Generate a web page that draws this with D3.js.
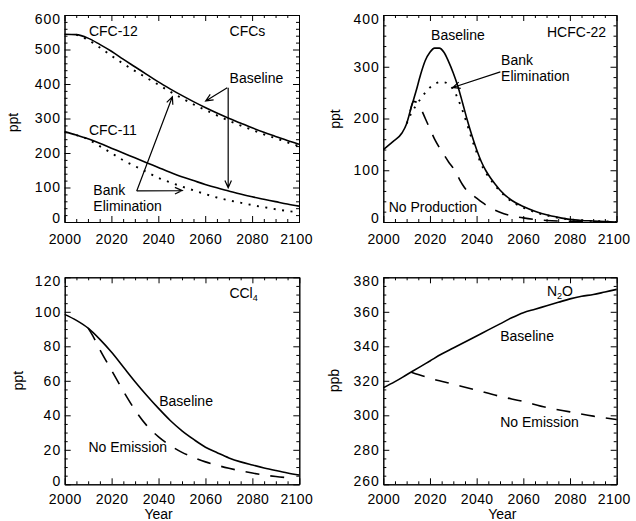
<!DOCTYPE html>
<html>
<head>
<meta charset="utf-8">
<script src="https://cdn.jsdelivr.net/npm/d3@7"></script>
<style>
body { margin: 0; background: #fff; }
text { font-family: "Liberation Sans", Arial, Helvetica, sans-serif; }
</style>
</head>
<body>
<div id="chart"></div>
<script>
"use strict"

// ---- data ----
let years = [2000,2005,2010,2015,2020,2025,2030,2035,2040,2045,2050,2055,2060,2065,2070,2075,2080,2085,2090,2095,2100];

let cfc12Baseline = [544,543,533,515,495,472,450,428,406,386,367,349,332,316,301,287,273,260,248,236,225];
let cfc12BankElim = [544,543,528,506,482,459,438,418,398,378,359,341,325,309,294,280,267,254,243,231,220];
let cfc11Baseline = [262,252,241,228,214,200,186,172,158,144,131,120,109,99,90,81,73,66,59,52,46];
let cfc11BankElim = [262,252,240,220,200,179,162,145,128,115,103,92,81,71,63,56,49,43,37,32,28];

let hcfcYears = [2000,2004,2008,2010,2012,2014,2016,2018,2020,2022,2024,2026,2028,2030,2032,2034,2036,2038,2040,2042,2044,2046,2048,2050,2055,2060,2065,2070,2075,2080,2085,2090,2095,2100];
let hcfcBaseline = [140,155,172,190,222,252,285,312,328,336,336,328,310,288,262,230,197,167,140,117,99,85,73,62,42,30,21,14,9,5,3,2,1,0];
let hcfcBankYears = [2010,2012,2014,2016,2018,2020,2022,2024,2026,2028,2030,2032,2034,2036,2038,2040,2042,2044,2046,2048,2050,2055,2060,2065,2070,2075,2080,2085,2090,2095,2100];
let hcfcBankElim = [190,210,225,238,250,260,266,270,270,266,256,238,215,188,160,135,112,95,82,70,60,40,28,19,13,8,5,3,2,1,0];
let hcfcNoProdYears = [2011.5,2013,2014,2016,2018,2020,2022,2024,2026,2028,2030,2032,2034,2036,2038,2040,2045,2050,2055,2060,2065,2070,2080,2090,2100];
let hcfcNoProd = [214,233,232,220,200,180,160,144,130,116,104,88,72,60,53,46,30,19,12,8,5,3,1.5,0.5,0];

let ccl4Baseline = [98.5,95,90.5,84,76.5,68,59.5,51.5,44,37,31,26,21.5,18.3,15.3,13,11.2,9.5,8,6.6,5.4];
let ccl4NoEmYears = [2010,2012,2015,2020,2025,2030,2035,2040,2045,2050,2055,2060,2065,2070,2075,2080,2085,2090,2095];
let ccl4NoEmission = [90.5,86,78,66,54,43,34,27.5,22.5,18.5,15.5,13,11,9.3,7.8,6.5,5.4,4.5,3.8];

let n2oBaseline = [316,319.5,323.5,327.5,331.5,335.5,339,342.5,346,349.5,353,356.5,359.5,361.5,363.5,365.5,367.5,369,370,371.5,373];
let n2oNoEmYears = [2012,2020,2030,2040,2050,2060,2070,2080,2090,2100];
let n2oNoEmission = [325,321.5,318,314.5,311,308,304.5,302,299.5,297.5];

let xTicks = [2000,2020,2040,2060,2080,2100];
let cfcTicks = [0,100,200,300,400,500,600];
let hcfcTicks = [0,100,200,300,400];
let ccl4Ticks = [0,20,40,60,80,100,120];
let n2oTicks = [260,280,300,320,340,360,380];

// ---- layout ----
let width = 636;
let height = 521;
let dotted = "2,6.5";
let dashed = "14,11";

let svg = d3.select("#chart")
    .append("svg")
    .attr("width", width)
    .attr("height", height);

let panels = [
  {
    box: [64.5, 15, 299, 222], yTicks: cfcTicks, yMinor: 20, yLabel: "ppt", yLabelX: 17.7, yLabelY: 122.5,
    xPad: 12,
    series: [
      {x: years, y: cfc12Baseline, dash: null},
      {x: years.slice(1), y: cfc12BankElim.slice(1), dash: dotted},
      {x: years, y: cfc11Baseline, dash: null},
      {x: years.slice(1), y: cfc11BankElim.slice(1), dash: dotted}
    ],
    notes: [
      {at: [2010.4, 539], parts: [["CFC-12"]]},
      {at: [2070.4, 539], parts: [["CFCs"]]},
      {at: [2070.4, 402], parts: [["Baseline"]]},
      {at: [2010.4, 252], parts: [["CFC-11"]]},
      {at: [2012.3, 78.3], lines: ["Bank", "Elimination"]}
    ],
    arrows: [
      {from: [2069.4, 389], to: [2060.2, 351]},
      {from: [2069.8, 389], to: [2069.8, 99]},
      {from: [2030.8, 90], to: [2046, 363]},
      {from: [2030.8, 90], to: [2050.2, 91]}
    ]
  },
  {
    box: [383.3, 15, 616.5, 222], yTicks: hcfcTicks, yMinor: 20, yLabel: "ppt", yLabelX: 339.7, yLabelY: 119,
    xPad: 12,
    series: [
      {x: hcfcYears, y: hcfcBaseline, dash: null},
      {x: hcfcBankYears, y: hcfcBankElim, dash: dotted},
      {x: hcfcNoProdYears, y: hcfcNoProd, dash: dashed}
    ],
    notes: [
      {at: [2070.2, 358], parts: [["HCFC-22"]]},
      {at: [2020.5, 352], parts: [["Baseline"]]},
      {at: [2050.5, 303.4], lines: ["Bank", "Elimination"]},
      {at: [2002.3, 19], parts: [["No Production"]]}
    ],
    arrows: [
      {from: [2050.2, 290], to: [2029.8, 260]}
    ]
  },
  {
    box: [64.7, 277.3, 299.3, 484.3], yTicks: ccl4Ticks, yMinor: 5, yLabel: "ppt", yLabelX: 22.5, yLabelY: 380.7,
    xPad: 9.5, xTitle: 2040,
    series: [
      {x: years, y: ccl4Baseline, dash: null},
      {x: ccl4NoEmYears, y: ccl4NoEmission, dash: dashed}
    ],
    notes: [
      {at: [2070.2, 108], parts: [["CCl"], ["4", true]]},
      {at: [2040.3, 45.4], parts: [["Baseline"]]},
      {at: [2010.1, 18.6], parts: [["No Emission"]]}
    ],
    arrows: []
  },
  {
    box: [383.3, 277.3, 616.7, 484.3], yTicks: n2oTicks, yMinor: 5, yLabel: "ppb", yLabelX: 338.5, yLabelY: 380.7,
    xPad: 9.5, xTitle: 2051,
    series: [
      {x: years, y: n2oBaseline, dash: null},
      {x: n2oNoEmYears, y: n2oNoEmission, dash: dashed}
    ],
    notes: [
      {at: [2070.1, 369], parts: [["N"], ["2", true], ["O"]]},
      {at: [2050.1, 343], parts: [["Baseline"]]},
      {at: [2050.1, 293], parts: [["No Emission"]]}
    ],
    arrows: []
  }
];

function styleAxis(g) {
  g.attr("font-family", null).attr("font-size", 14);
  g.selectAll("path.domain").attr("stroke", "black").attr("stroke-width", 1);
  g.selectAll("line").attr("stroke", "black").attr("stroke-width", 1);
  g.selectAll("text").attr("fill", "black");
}

function addAxis(g, axis, transform, majors, minors, labels, pad) {
  let m = g.append("g").attr("transform", transform)
    .call(axis.tickValues(minors).tickSize(-3).tickSizeOuter(0).tickFormat(""));
  styleAxis(m);
  let a = g.append("g").attr("transform", transform)
    .call(axis.tickValues(majors).tickSize(-6).tickSizeOuter(0)
      .tickFormat(labels ? d3.format("d") : "").tickPadding(pad));
  styleAxis(a);
  return a;
}

function drawArrow(g, x, y, a) {
  let x1 = x(a.from[0]), y1 = y(a.from[1]);
  let x2 = x(a.to[0]), y2 = y(a.to[1]);
  let ang = Math.atan2(y2 - y1, x2 - x1);
  let len = 8, spread = 0.42;
  let p = d3.path();
  p.moveTo(x1, y1);
  p.lineTo(x2, y2);
  p.moveTo(x2 - len * Math.cos(ang - spread), y2 - len * Math.sin(ang - spread));
  p.lineTo(x2, y2);
  p.lineTo(x2 - len * Math.cos(ang + spread), y2 - len * Math.sin(ang + spread));
  g.append("path")
    .attr("d", p.toString())
    .attr("fill", "none")
    .attr("stroke", "black")
    .attr("stroke-width", 1.2);
}

panels.forEach(function(p) {
  let [left, top, right, bottom] = p.box;
  let yDomain = [p.yTicks[0], p.yTicks[p.yTicks.length - 1]];
  let x = d3.scaleLinear().domain([2000, 2100]).range([left, right]);
  let y = d3.scaleLinear().domain(yDomain).range([bottom, top]);
  let g = svg.append("g");

  let xMinor = d3.range(2000, 2101, 5).filter(d => d % 20 !== 0);
  let yMinor = d3.range(yDomain[0], yDomain[1] + 0.1, p.yMinor).filter(d => p.yTicks.indexOf(d) < 0);

  let bottomAxis = addAxis(g, d3.axisBottom(x), `translate(0,${bottom})`, xTicks, xMinor, true, p.xPad);
  addAxis(g, d3.axisTop(x), `translate(0,${top})`, xTicks, xMinor, false, 0);
  let leftAxis = addAxis(g, d3.axisLeft(y), `translate(${left},0)`, p.yTicks, yMinor, true, 3.5);
  addAxis(g, d3.axisRight(y), `translate(${right},0)`, p.yTicks, yMinor, false, 0);

  bottomAxis.selectAll("text").attr("letter-spacing", 0.4);
  bottomAxis.selectAll("text").filter(d => d === 2100).attr("dx", -3);
  leftAxis.selectAll("text").attr("letter-spacing", 1);
  leftAxis.selectAll("text").filter(d => d === yDomain[1]).attr("dy", "0.62em");
  leftAxis.selectAll("text").filter(d => d === yDomain[0]).attr("dy", "0.05em");

  // curves
  let line = d3.line()
    .x(d => x(d[0]))
    .y(d => y(d[1]))
    .curve(d3.curveMonotoneX);

  p.series.forEach(function(s) {
    g.append("path")
      .datum(d3.zip(s.x, s.y))
      .attr("d", line)
      .attr("fill", "none")
      .attr("stroke", "black")
      .attr("stroke-width", s.dash === dotted ? 1.9 : 1.6)
      .attr("stroke-dasharray", s.dash);
  });

  // annotations
  p.notes.forEach(function(n) {
    let t = g.append("text")
      .attr("x", x(n.at[0]))
      .attr("y", y(n.at[1]))
      .attr("font-size", 14)
      .attr("fill", "black");
    if (n.lines) {
      n.lines.forEach(function(txt, i) {
        t.append("tspan")
          .attr("x", x(n.at[0]))
          .attr("dy", i === 0 ? 0 : 16.2)
          .text(txt);
      });
      return;
    }
    n.parts.forEach(function(part) {
      let sp = t.append("tspan").text(part[0]);
      if (part[1]) {
        sp.attr("font-size", 9).attr("dy", 3);
      } else if (t.selectAll("tspan").size() > 1) {
        sp.attr("dy", -3);
      }
    });
  });

  p.arrows.forEach(a => drawArrow(g, x, y, a));

  // axis titles
  g.append("text")
    .attr("transform", `translate(${p.yLabelX},${p.yLabelY}) rotate(-90)`)
    .attr("text-anchor", "middle")
    .attr("font-size", 14)
    .text(p.yLabel);

  if (p.xTitle) {
    g.append("text")
      .attr("x", x(p.xTitle))
      .attr("y", 519)
      .attr("text-anchor", "middle")
      .attr("font-size", 14)
      .text("Year");
  }
});
</script>
</body>
</html>
